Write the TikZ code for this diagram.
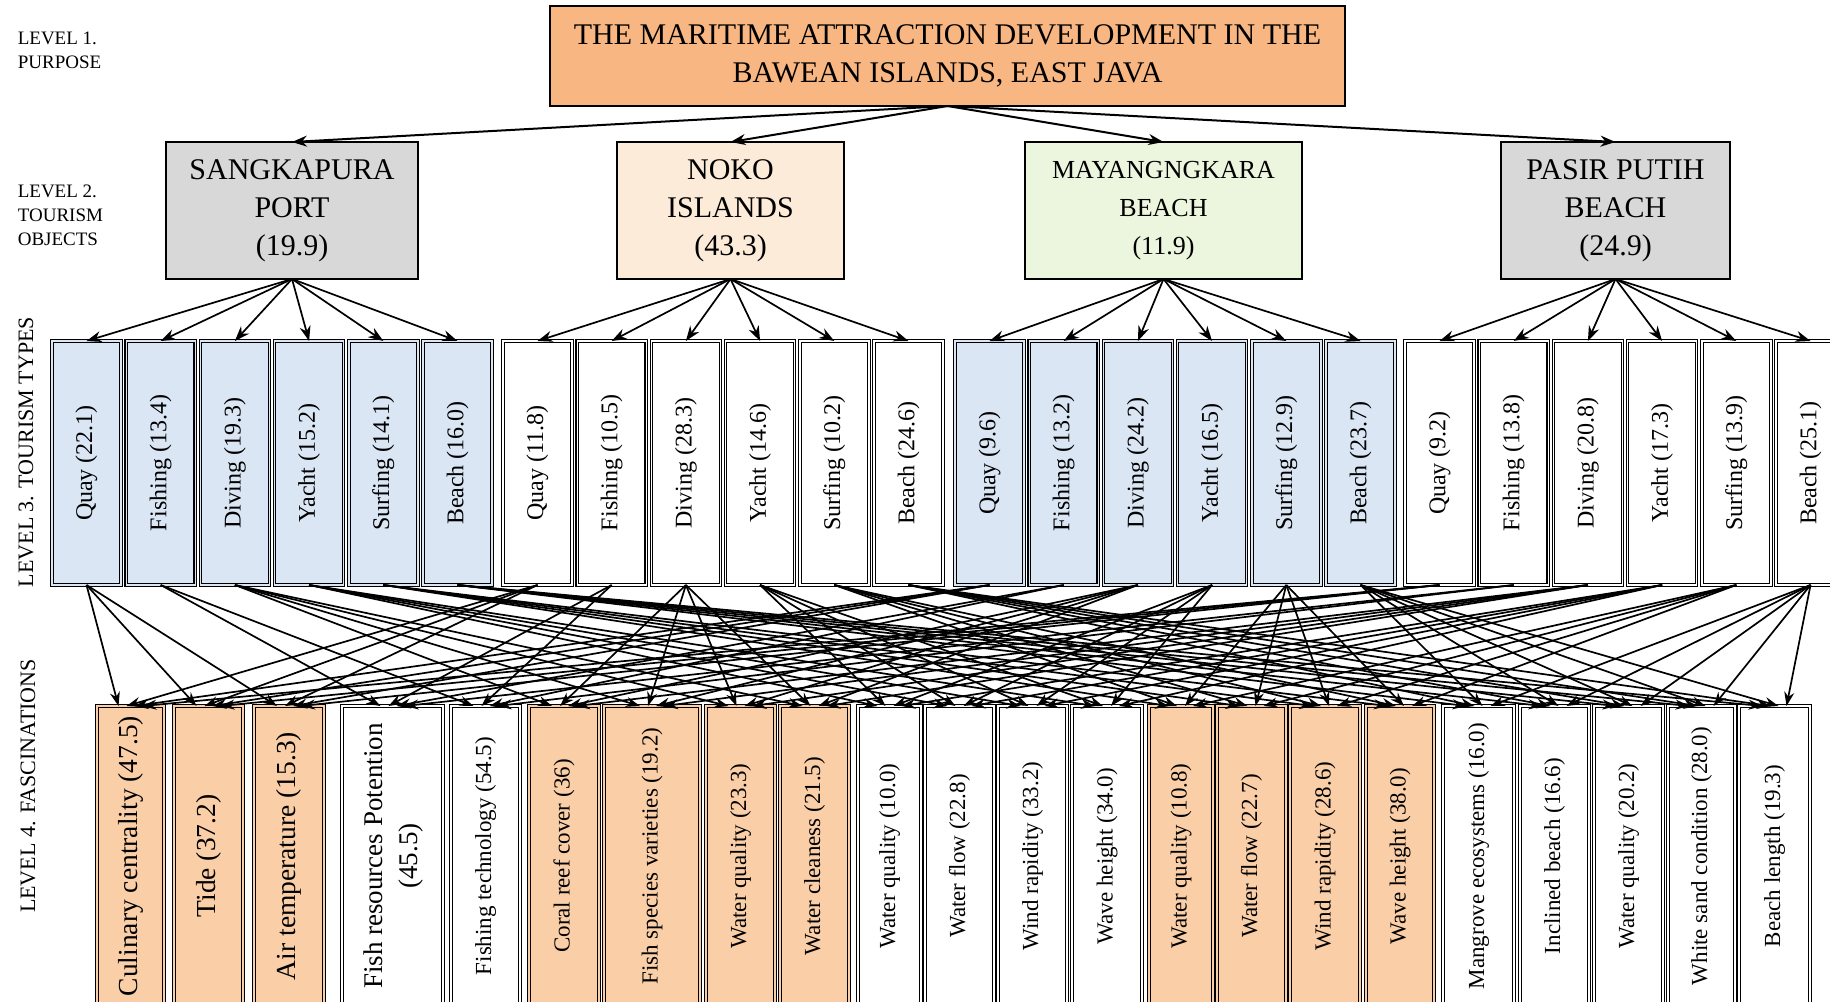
\documentclass[tikz,border=0pt]{standalone}
\usepackage{fontspec}
\setmainfont{Liberation Serif}
\usepackage{graphicx}
\usetikzlibrary{arrows.meta,calc}
\definecolor{purpose}{RGB}{248,183,130}
\definecolor{objgray}{RGB}{216,216,216}
\definecolor{objpeach}{RGB}{252,235,217}
\definecolor{objgreen}{RGB}{236,245,222}
\definecolor{typeblue}{RGB}{219,230,245}
\definecolor{fascor}{RGB}{250,207,168}
\tikzset{
  box/.style={draw,inner sep=0pt,outer sep=0pt,anchor=north west,align=center},
  dbox/.style={box,fill=#1,double=#1,double distance=1.4pt,line width=1.1pt},
  dbox/.default=white,
  lvl/.style={inner sep=0pt,font=\fontsize{19}{24}\selectfont},
  fasc/.style={-{Stealth[length=14pt,width=10pt]},line width=1.7pt}
}
\begin{document}
\begin{tikzpicture}[>={Stealth[length=15pt,width=11pt]},x=1pt,y=-1pt,line width=1.6pt]
\clip (0,0) rectangle (1830,1001);
\node[lvl,anchor=north west,align=left] (lv1) at (17,31) {LEVEL 1.\\PURPOSE};
\node[lvl,anchor=north west,align=left] (lv2) at (17,184) {LEVEL 2.\\TOURISM\\OBJECTS};
\node[lvl,rotate=90,font=\fontsize{22}{26}\selectfont] (lv3) at (26,452) {LEVEL 3. TOURISM TYPES};
\node[lvl,rotate=90,font=\fontsize{22}{26}\selectfont] (lv4) at (28,786) {LEVEL 4. FASCINATIONS};

\node[box,fill=purpose,minimum width=795pt,minimum height=100pt,font=\fontsize{30}{38}\selectfont] (pur) at (550,6)
  {THE MARITIME ATTRACTION DEVELOPMENT IN THE\\BAWEAN ISLANDS, EAST JAVA};

\foreach \o/\x/\w/\col/\fsz/\txt in {1/166/252/objgray/30/{SANGKAPURA\\PORT\\(19.9)},
  2/617/227/objpeach/30/{NOKO\\ISLANDS\\(43.3)},3/1025/277/objgreen/26/{MAYANGNGKARA\\BEACH\\(11.9)},
  4/1501/229/objgray/30/{PASIR PUTIH\\BEACH\\(24.9)}}{
  \node[box,fill=\col,minimum width=\w pt,minimum height=137pt,font=\fontsize{\fsz}{38}\selectfont] (obj\o) at (\x,142) {\txt};
  \draw[->,line width=2pt] (pur.south) -- (obj\o.north);
}

\foreach \g/\sx/\col/\lst in {1/52/typeblue/{Quay/22.1,Fishing/13.4,Diving/19.3,Yacht/15.2,Surfing/14.1,Beach/16.0},
  2/503/white/{Quay/11.8,Fishing/10.5,Diving/28.3,Yacht/14.6,Surfing/10.2,Beach/24.6},
  3/955/typeblue/{Quay/9.6,Fishing/13.2,Diving/24.2,Yacht/16.5,Surfing/12.9,Beach/23.7},
  4/1405/white/{Quay/9.2,Fishing/13.8,Diving/20.8,Yacht/17.3,Surfing/13.9,Beach/25.1}}
  \foreach \ty/\v [count=\i from 0] in \lst {
    \node[dbox=\col,minimum width=69pt,minimum height=244pt,font=\fontsize{24}{28}\selectfont] (t\g\i) at (\sx+74.2*\i,341)
      {\rotatebox{90}{\ty\ (\v)}};
    \draw[->,line width=1.7pt] (obj\g.south) -- (t\g\i.north);
  }

\foreach \j/\x/\w/\col/\fsz/\txt in {1/97/67/fascor/27.5/{Culinary centrality (47.5)},2/174/69/fascor/27.5/{Tide (37.2)},
  3/254/70/fascor/27.5/{Air temperature (15.3)},
  4/342/101/white/27/{\begin{tabular}{@{}c@{}}Fish resources Potention\\(45.5)\end{tabular}},
  5/451/69/white/23/{Fishing technology (54.5)},6/529/70/fascor/23/{Coral reef cover (36)},
  7/604/96/fascor/23/{Fish species varieties (19.2)},8/706/69/fascor/23/{Water quality (23.3)},
  9/780/69/fascor/23/{Water cleaness (21.5)},10/858/63/white/23/{Water quality (10.0)},
  11/925/69/white/23/{Water flow (22.8)},12/998/69/white/23/{Wind rapidity (33.2)},
  13/1072/70/white/23/{Wave height (34.0)},14/1149/64/fascor/23/{Water quality (10.8)},
  15/1217/69/fascor/23/{Water flow (22.7)},16/1290/70/fascor/23/{Wind rapidity (28.6)},
  17/1366/68/fascor/23/{Wave height (38.0)},18/1443/71/white/23/{Mangrove ecosystems (16.0)},
  19/1520/69/white/23/{Inclined beach (16.6)},20/1594/69/white/23/{Water quality (20.2)},
  21/1668/67/white/23/{White sand condition (28.0)},22/1739/71/white/23/{Beach length (19.3)}}
  \node[dbox=\col,minimum width=\w pt,minimum height=300pt,font=\fontsize{\fsz}{35}\selectfont] (f\j) at (\x,706)
    {\rotatebox{90}{\txt}};

\foreach \i/\fl in {0/{1,2,3},1/{4,5},2/{6,7,8,9},3/{10,11,12,13},4/{14,15,16,17},5/{18,19,20,21,22}}
  \foreach \g in {1,...,4}
    \foreach \j in \fl
      \draw[fasc] (t\g\i.south) -- ($(f\j.north)+(8*\g-20,0)$);
\end{tikzpicture}
\end{document}
